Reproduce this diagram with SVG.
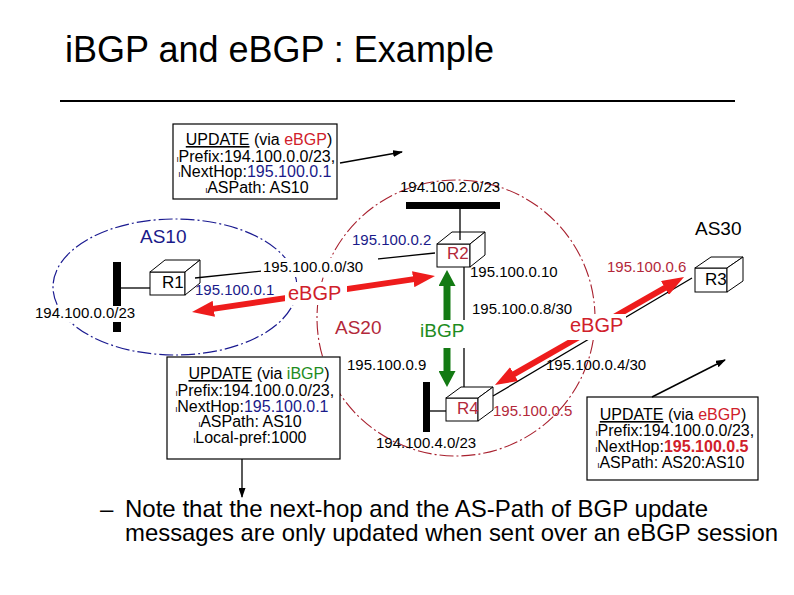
<svg xmlns="http://www.w3.org/2000/svg" width="794" height="595" viewBox="0 0 794 595">
<style>
text { font-family: "Liberation Sans", Arial, sans-serif; }
.box { fill: #fff; stroke: #000; stroke-width: 1; }
.ubox { fill: #fff; stroke: #000; stroke-width: 1.2; }
.lbl { font-size: 15px; fill: #000; }
.navy { fill: #1a1a8a; }
.dred { fill: #b3283a; }
.red { fill: #d0202a; }
.green { fill: #1e8c1e; }
.bg { fill: #fff; }
.bar { fill: #000; }
.wire { stroke: #000; stroke-width: 1.3; fill: none; }
.ut { font-size: 16px; fill: #000; text-anchor: middle; }
.bul { font-size: 8px; }
</style>
<defs>
<marker id="redHead" markerUnits="userSpaceOnUse" markerWidth="22" markerHeight="16" refX="1" refY="8" orient="auto-start-reverse"><path d="M0,0 L22,8 L0,16 z" fill="#ee1c1c"/></marker>
<marker id="greenHead" markerUnits="userSpaceOnUse" markerWidth="16" markerHeight="17" refX="1" refY="8.5" orient="auto-start-reverse"><path d="M0,0 L16,8.5 L0,17 z" fill="#137a13"/></marker>
<marker id="blackHead" markerUnits="userSpaceOnUse" markerWidth="10" markerHeight="7" refX="9" refY="3.5" orient="auto"><path d="M0,0 L10,3.5 L0,7 z" fill="#000"/></marker>
</defs>

<rect width="794" height="595" fill="#fff"/>

<!-- Title -->
<text x="65" y="62" font-size="36">iBGP and eBGP : Example</text>
<line x1="60" y1="101" x2="735" y2="101" stroke="#000" stroke-width="2"/>

<!-- AS areas -->
<g id="as10-area">
<ellipse cx="175" cy="287" rx="122" ry="68" fill="none" stroke="#1a1a90" stroke-width="1.2" stroke-dasharray="14 3 2 3"/>
</g>
<g id="as20-area">
<ellipse cx="456" cy="318" rx="139" ry="138" fill="none" stroke="#a8202e" stroke-width="1.1" stroke-dasharray="14 3 2 3"/>
</g>

<!-- Networks -->
<g id="net-194-100-0-0">
<rect class="bar" x="113" y="262" width="8" height="70"/>
</g>
<g id="net-194-100-2-0">
<rect class="bar" x="406" y="202" width="94" height="7"/>
</g>
<g id="net-194-100-4-0">
<rect class="bar" x="423" y="382" width="7" height="50"/>
</g>

<!-- Routers -->
<g id="R1">
<rect class="box" x="150" y="272" width="35" height="23"/>
<polygon class="box" points="150,272 165,260 200,260 185,272"/>
<polygon class="box" points="185,272 200,260 200,283 185,295"/>
<text x="162" y="288" font-size="17" fill="#000">R1</text>
</g>
<g id="R2">
<rect class="box" x="437" y="244" width="33" height="23"/>
<polygon class="box" points="437,244 452,232 485,232 470,244"/>
<polygon class="box" points="470,244 485,232 485,255 470,267"/>
<text x="447" y="259" font-size="17" class="dred">R2</text>
</g>
<g id="R3">
<rect class="box" x="695" y="268" width="32" height="24"/>
<polygon class="box" points="695,268 711,257 743,257 727,268"/>
<polygon class="box" points="727,268 743,257 743,281 727,292"/>
<text x="705" y="285" font-size="17" fill="#000">R3</text>
</g>
<g id="R4">
<rect class="box" x="446" y="398" width="32" height="23"/>
<polygon class="box" points="446,398 461,387 493,387 478,398"/>
<polygon class="box" points="478,398 493,387 493,410 478,421"/>
<text x="457" y="414" font-size="17" class="dred">R4</text>
</g>

<!-- Update boxes -->
<g id="update-ebgp-1">
<rect class="ubox" x="173" y="124" width="164" height="75"/>
<text class="ut" x="259" y="145"><tspan text-decoration="underline">UPDATE</tspan> (via <tspan class="red">eBGP</tspan>)</text>
<text class="ut" x="256" y="162"><tspan class="bul">l</tspan>Prefix:194.100.0.0/23,</text>
<text class="ut" x="255" y="177"><tspan class="bul">l</tspan>NextHop:<tspan class="navy">195.100.0.1</tspan></text>
<text class="ut" x="257" y="193"><tspan class="bul">l</tspan>ASPath: AS10</text>
</g>
<g id="update-ibgp">
<rect class="ubox" x="167" y="357" width="173" height="102"/>
<text class="ut" x="259" y="379"><tspan text-decoration="underline">UPDATE</tspan> (via <tspan class="green">iBGP</tspan>)</text>
<text class="ut" x="255" y="396"><tspan class="bul">l</tspan>Prefix:194.100.0.0/23,</text>
<text class="ut" x="252" y="412"><tspan class="bul">l</tspan>NextHop:<tspan class="navy">195.100.0.1</tspan></text>
<text class="ut" x="250" y="427"><tspan class="bul">l</tspan>ASPath: AS10</text>
<text class="ut" x="250" y="443"><tspan class="bul">l</tspan>Local-pref:1000</text>
</g>
<g id="update-ebgp-2">
<rect class="ubox" x="587" y="397" width="171" height="83"/>
<text class="ut" x="673" y="420"><tspan text-decoration="underline">UPDATE</tspan> (via <tspan class="red">eBGP</tspan>)</text>
<text class="ut" x="675" y="436"><tspan class="bul">l</tspan>Prefix:194.100.0.0/23,</text>
<text class="ut" x="672" y="452"><tspan class="bul">l</tspan>NextHop:<tspan class="red" font-weight="bold">195.100.0.5</tspan></text>
<text class="ut" x="671" y="468"><tspan class="bul">l</tspan>ASPath: AS20:AS10</text>
</g>

<!-- Connectors -->
<g id="connectors">
<line class="wire" x1="121" y1="288" x2="150" y2="288"/>
<line class="wire" x1="195" y1="278" x2="435" y2="253"/>
<line class="wire" x1="460" y1="209" x2="460" y2="240"/>
<line class="wire" x1="464" y1="267" x2="464" y2="387"/>
<line class="wire" x1="430" y1="411" x2="446" y2="411"/>
<line class="wire" x1="493" y1="396" x2="692" y2="278"/>
<!-- session arrows -->
<line x1="212.8" y1="308.9" x2="414.2" y2="279.1" stroke="#ee1c1c" stroke-width="6" marker-start="url(#redHead)" marker-end="url(#redHead)"/>
<line x1="513.2" y1="374.6" x2="665.8" y2="287.4" stroke="#ee1c1c" stroke-width="6" marker-start="url(#redHead)" marker-end="url(#redHead)"/>
<line x1="447" y1="285" x2="447" y2="372" stroke="#137a13" stroke-width="7" marker-start="url(#greenHead)" marker-end="url(#greenHead)"/>
<!-- update arrows -->
<line x1="340" y1="163" x2="402" y2="152" stroke="#000" stroke-width="1.5" marker-end="url(#blackHead)"/>
<line x1="652" y1="397" x2="725" y2="360" stroke="#000" stroke-width="1.5" marker-end="url(#blackHead)"/>
<line x1="242" y1="459" x2="242" y2="497" stroke="#000" stroke-width="1.3" marker-end="url(#blackHead)"/>
</g>

<!-- Labels -->
<g id="labels">
<rect class="bg" x="33" y="306" width="109" height="16"/>
<text class="lbl" x="35" y="318">194.100.0.0/23</text>
<rect class="bg" x="261" y="258" width="117" height="19"/>
<text class="lbl" x="263" y="272">195.100.0.0/30</text>
<text class="lbl navy" x="195" y="295">195.100.0.1</text>
<text class="lbl navy" x="352" y="245">195.100.0.2</text>
<text class="lbl" x="400" y="192">194.100.2.0/23</text>
<rect class="bg" x="285" y="282" width="62" height="23"/>
<text x="288" y="300" font-size="20" class="red">eBGP</text>
<text x="140" y="243" font-size="19" class="navy">AS10</text>
<text x="335" y="334" font-size="19" class="dred">AS20</text>
<text x="695" y="235" font-size="19" fill="#000">AS30</text>
<rect class="bg" x="417" y="320" width="50" height="28"/>
<text x="420" y="337" font-size="19" class="green">iBGP</text>
<text class="lbl" x="470" y="277">195.100.0.10</text>
<text class="lbl" x="472" y="314">195.100.0.8/30</text>
<rect class="bg" x="566" y="314" width="60" height="26"/>
<text x="570" y="332" font-size="20" class="red">eBGP</text>
<text class="lbl dred" x="607" y="272">195.100.0.6</text>
<text class="lbl" x="347" y="370">195.100.0.9</text>
<text class="lbl" x="546" y="370">195.100.0.4/30</text>
<text class="lbl dred" x="493" y="416">195.100.0.5</text>
<text class="lbl" x="376" y="448">194.100.4.0/23</text>
</g>

<!-- Note -->
<text x="100" y="517" font-size="24">–</text>
<text x="125" y="517" font-size="24" textLength="583" lengthAdjust="spacingAndGlyphs">Note that the next-hop and the AS-Path of BGP update</text>
<text x="125" y="541" font-size="24" textLength="653" lengthAdjust="spacingAndGlyphs">messages are only updated when sent over an eBGP session</text>
</svg>
